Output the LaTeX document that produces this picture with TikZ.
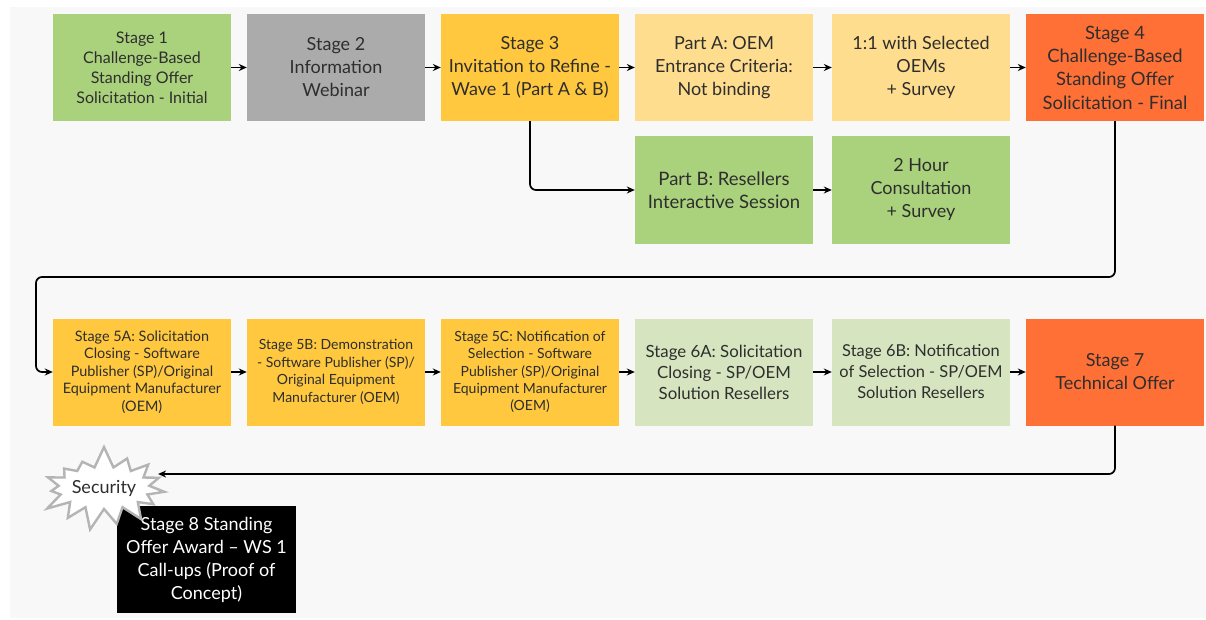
\documentclass[tikz,border=0pt]{standalone}
\usepackage{fontspec}
\setmainfont{Lato}
\usetikzlibrary{arrows.meta,shapes.symbols}
\definecolor{bgc}{HTML}{F8F8F8}
\definecolor{gr}{HTML}{AAD27D}
\definecolor{gy}{HTML}{ABABAB}
\definecolor{yl}{HTML}{FFC83E}
\definecolor{ly}{HTML}{FFDD8E}
\definecolor{org}{HTML}{FF7037}
\definecolor{lg}{HTML}{D6E5BF}
\definecolor{tx}{HTML}{2E2E2E}
\definecolor{sg}{HTML}{B4B4B4}
\tikzset{
  box/.style={minimum width=178pt, minimum height=107pt, align=center, inner sep=1pt, text=tx, draw=none},
  big/.style={font=\fontsize{18}{23}\selectfont},
  mid/.style={font=\fontsize{16.8}{21}\selectfont},
  sml/.style={font=\fontsize{16}{20}\selectfont},
  tiny/.style={font=\fontsize{14.4}{17.5}\selectfont},
  arr/.style={line width=1.7pt, -{Stealth[length=8pt,width=7pt]}, black},
}
\begin{document}
\begin{tikzpicture}[x=1pt,y=-1pt]
\useasboundingbox (0,0) rectangle (1206,620);
\fill[white] (0,0) rectangle (1206,620);
\fill[bgc] (10,7) rectangle (1206,618);
% row 1
\node[box,sml,fill=gr] (s1) at (142,67.5) {Stage 1\\Challenge-Based\\Standing Offer\\Solicitation - Initial};
\node[box,big,fill=gy] (s2) at (336,67.5) {Stage 2\\Information\\Webinar};
\node[box,big,fill=yl] (s3) at (530,67.5) {Stage 3\\Invitation to Refine -\\Wave 1 (Part A \& B)};
\node[box,big,fill=ly] (pa) at (724,67.5) {Part A: OEM\\Entrance Criteria:\\Not binding};
\node[box,big,fill=ly] (oo) at (921,67.5) {1:1 with Selected\\OEMs\\+ Survey};
\node[box,font=\fontsize{18.4}{23.3}\selectfont,fill=org] (s4) at (1115,67.5) {Stage 4\\Challenge-Based\\Standing Offer\\Solicitation - Final};
% row 2
\node[box,font=\fontsize{18.5}{23}\selectfont,fill=gr] (pb) at (724,190) {Part B: Resellers\\Interactive Session};
\node[box,big,fill=gr] (th) at (921,190) {2 Hour\\Consultation\\+ Survey};
% row 3
\node[box,tiny,fill=yl] (s5a) at (142,372) {Stage 5A: Solicitation\\Closing - Software\\Publisher (SP)/Original\\Equipment Manufacturer\\(OEM)};
\node[box,font=\fontsize{14}{17.5}\selectfont,fill=yl] (s5b) at (336,372) {Stage 5B: Demonstration\\- Software Publisher (SP)/\\Original Equipment\\Manufacturer (OEM)};
\node[box,font=\fontsize{14}{17.2}\selectfont,fill=yl] (s5c) at (530,372) {Stage 5C: Notification of\\Selection - Software\\Publisher (SP)/Original\\Equipment Manufacturer\\(OEM)};
\node[box,mid,fill=lg] (s6a) at (724,372) {Stage 6A: Solicitation\\Closing - SP/OEM\\Solution Resellers};
\node[box,font=\fontsize{16.4}{21}\selectfont,fill=lg] (s6b) at (921,372) {Stage 6B: Notification\\of Selection - SP/OEM\\Solution Resellers};
\node[box,big,fill=org] (s7) at (1115,372) {Stage 7\\Technical Offer};
% stage 8
\node[box,big,fill=black,text=white,minimum width=179pt] (s8) at (206.5,559.5) {Stage 8 Standing\\Offer Award -- WS 1\\Call-ups (Proof of\\Concept)};
\node[starburst, starburst points=15, starburst point height=22pt, random starburst=7,
      draw=sg, line width=2.4pt, fill=white, minimum width=122pt, minimum height=86pt,
      inner sep=0pt, text=tx, font=\fontsize{18}{20}\selectfont] (sec) at (104,488) {Security};
% coordinates
\coordinate (k1) at (1115,277);
\coordinate (k2) at (36,277);
\coordinate (k3) at (36,372);
\coordinate (k4) at (1115,474);
% arrows
\draw[arr] (s1) -- (s2);
\draw[arr] (s2) -- (s3);
\draw[arr] (s3) -- (pa);
\draw[arr] (pa) -- (oo);
\draw[arr] (oo) -- (s4);
\draw[arr] (pb) -- (th);
\draw[arr,rounded corners=6pt] (s3.south) |- (pb.west);
\draw[arr,rounded corners=6pt] (s4.south) -- (k1) -- (k2) -- (k3) -- (s5a.west);
\draw[arr] (s5a) -- (s5b);
\draw[arr] (s5b) -- (s5c);
\draw[arr] (s5c) -- (s6a);
\draw[arr] (s6a) -- (s6b);
\draw[arr] (s6b) -- (s7);
\draw[arr,rounded corners=6pt] (s7.south) -- (k4) -- (sec.east |- k4);
\end{tikzpicture}
\end{document}
